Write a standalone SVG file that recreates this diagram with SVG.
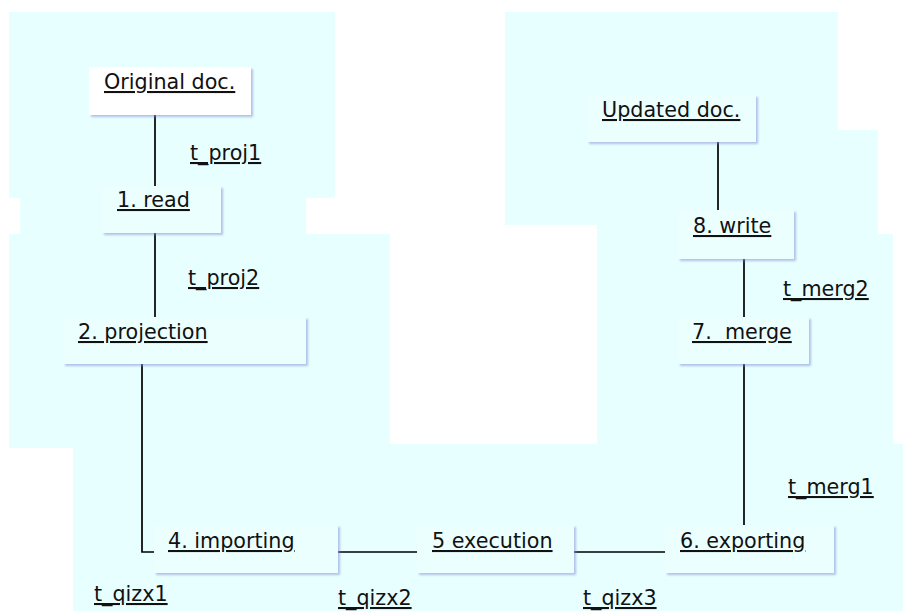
<svg xmlns="http://www.w3.org/2000/svg" width="903" height="611" viewBox="0 0 903 611">
<defs>
<filter id="sh" x="-10%" y="-20%" width="130%" height="150%">
<feDropShadow dx="2" dy="2" stdDeviation="1.2" flood-color="#7f8fd8" flood-opacity="0.55"/>
</filter>
<style>
.bg{fill:#e8ffff;stroke:none}
.node{fill:#ecffff;stroke:none;filter:url(#sh)}
.white{fill:#ffffff}
text{font-family:"DejaVu Sans",Verdana,sans-serif;font-size:20.7px;fill:#111;text-decoration:underline;white-space:pre}
.con{stroke:#000;stroke-width:1.7;fill:none}
</style>
</defs>
<g id="regions">
<rect class="bg" x="9" y="12" width="326" height="186"/>
<rect class="bg" x="20" y="198" width="286" height="36"/>
<rect class="bg" x="9" y="234" width="381" height="214"/>
<rect class="bg" x="73" y="444" width="830" height="167"/>
<rect class="bg" x="505" y="12" width="333" height="118"/>
<rect class="bg" x="505" y="130" width="373" height="95"/>
<rect class="bg" x="597" y="225" width="281" height="9"/>
<rect class="bg" x="597" y="234" width="296" height="210"/>
</g>
<g id="connectors">
<line class="con" x1="155" y1="115" x2="155" y2="186"/>
<line class="con" x1="155" y1="233" x2="155" y2="317"/>
<polyline class="con" points="142,364 142,552 154,552"/>
<line class="con" x1="338" y1="552" x2="417" y2="552"/>
<line class="con" x1="574" y1="552" x2="665" y2="552"/>
<line class="con" x1="744" y1="364" x2="744" y2="525"/>
<line class="con" x1="744" y1="259" x2="744" y2="317"/>
<line class="con" x1="718" y1="142" x2="718" y2="210"/>
</g>
<g id="labels">
<text x="190" y="160">t_proj1</text>
<text x="188" y="285">t_proj2</text>
<text x="783" y="296">t_merg2</text>
<text x="788" y="494">t_merg1</text>
<text x="94" y="601">t_qizx1</text>
<text x="338" y="605">t_qizx2</text>
<text x="583" y="605">t_qizx3</text>
</g>
<g id="node-original">
<rect class="node white" x="89" y="67" width="162" height="48"/>
<text x="104" y="89">Original doc.</text>
</g>
<g id="node-read">
<rect class="node" x="102" y="186" width="119" height="47"/>
<text x="117" y="207">1. read</text>
</g>
<g id="node-projection">
<rect class="node" x="63" y="317" width="243" height="47"/>
<text x="78" y="339">2. projection</text>
</g>
<g id="node-importing">
<rect class="node" x="154" y="525" width="184" height="48"/>
<text x="168" y="548">4. importing</text>
</g>
<g id="node-execution">
<rect class="node" x="417" y="525" width="157" height="48"/>
<text x="432" y="548">5 execution</text>
</g>
<g id="node-exporting">
<rect class="node" x="665" y="525" width="169" height="48"/>
<text x="680" y="548">6. exporting</text>
</g>
<g id="node-merge">
<rect class="node" x="678" y="317" width="131" height="47"/>
<text x="692" y="339">7.  merge</text>
</g>
<g id="node-write">
<rect class="node" x="678" y="210" width="116" height="49"/>
<text x="693" y="233">8. write</text>
</g>
<g id="node-updated">
<rect class="node" x="587" y="95" width="169" height="47"/>
<text x="602" y="117">Updated doc.</text>
</g>
</svg>
